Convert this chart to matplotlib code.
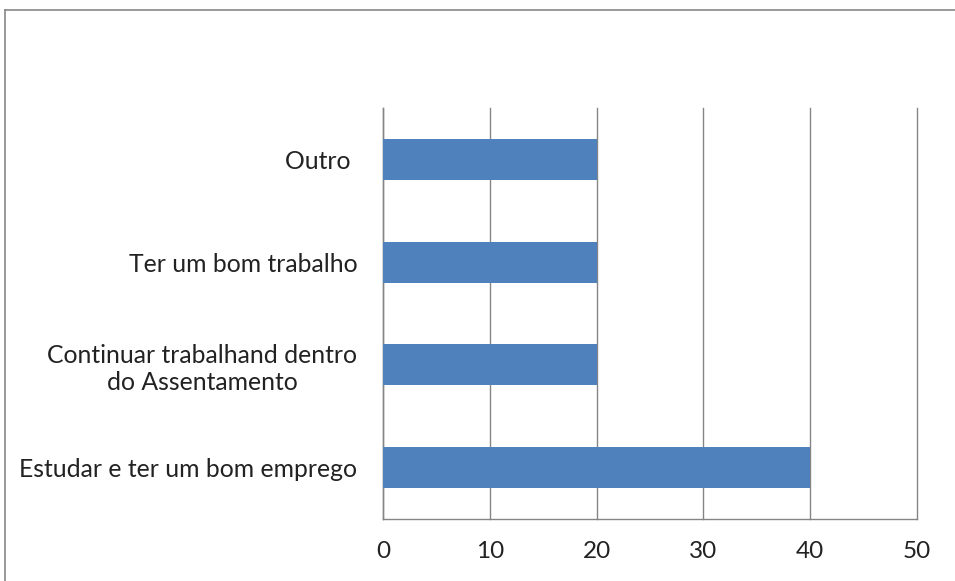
import matplotlib
matplotlib.use("Agg")
import matplotlib.pyplot as plt
from matplotlib.lines import Line2D

categories = ["Estudar e ter um bom emprego", "Continuar trabalhand dentro\ndo Assentamento",
              "Ter um bom trabalho", "Outro "]
values = [40, 20, 20, 20]
ticks = [0, 10, 20, 30, 40, 50]

plt.rcParams['font.family'] = ['Lato', 'DejaVu Sans']
fig = plt.figure(figsize=(9.55, 5.81), dpi=100)
ax = fig.add_axes([383/955, 62/581, 534/955, 411/581])

ax.barh(range(len(categories)), values, height=0.4, color="#4F81BD", zorder=3)
ax.set_xlim(0, 50)
ax.set_ylim(-0.5, len(categories) - 0.5)
ax.set_xticks(ticks)
ax.set_xticklabels([str(t) for t in ticks], fontsize=17.5, color="#222222")
ax.set_yticks(range(len(categories)))
ax.set_yticklabels(categories, fontsize=17.8, color="#222222", multialignment="center")
ax.tick_params(axis="x", length=0, pad=16)
ax.tick_params(axis="y", length=0, pad=18.5)
ax.grid(axis="x", color="#858585", linewidth=1, zorder=0)
for gl in ax.get_xgridlines():
    gl.set_clip_on(False)
for s in ["top", "right"]:
    ax.spines[s].set_visible(False)
for s in ["left", "bottom"]:
    ax.spines[s].set_color("#858585")
    ax.spines[s].set_linewidth(1)

# outer frame
fig.add_artist(Line2D([4.5/955, 4.5/955], [0, 1 - 9.5/581], transform=fig.transFigure, color="#888888", lw=1.2))
fig.add_artist(Line2D([4.5/955, 1], [1 - 9.5/581, 1 - 9.5/581], transform=fig.transFigure, color="#888888", lw=1.2))

fig.savefig("out.png", dpi=100, facecolor="white")
